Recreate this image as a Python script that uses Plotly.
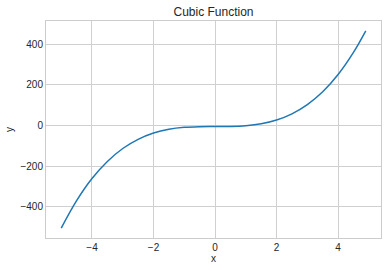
import plotly.graph_objects as go

# Values
x_vals = [-5.0, -4.5, -4.0, -3.5, -3.0, -2.5, -2.0, -1.5, -1.0, -0.5, 0.0,
          0.5, 1.0, 1.5, 2.0, 2.5, 3.0, 3.5, 4.0, 4.5, 4.9]
y_vals = [-505, -370, -261, -177, -113, -68, -37, -18.5, -9, -5.5, -5,
          -4.5, -1, 8.5, 27, 57.5, 103, 166, 251, 360, 466]
x_ticks = [-4, -2, 0, 2, 4]
y_ticks = [-400, -200, 0, 200, 400]
title_text = "Cubic Function"
x_label = "x"
y_label = "y"

W, H = 388, 271
L, R, T, B = 46, 7, 21, 33
FONT = "Liberation Sans, Arial, sans-serif"
TXT = "#262626"

fig = go.Figure()
fig.add_trace(go.Scatter(x=x_vals, y=y_vals, mode="lines",
                         line=dict(color="#1f77b4", width=1.5, shape="spline"),
                         showlegend=False, hoverinfo="skip"))

axis_common = dict(showgrid=True, gridcolor="#d0d0d0", gridwidth=1,
                   showline=True, linecolor="#cccccc", linewidth=1, mirror=True,
                   zeroline=False, ticks="",
                   tickfont=dict(family=FONT, size=10, color=TXT))

xmin, xmax = min(x_vals), max(x_vals)
ymin, ymax = min(y_vals), max(y_vals)
xp = 0.05 * (xmax - xmin)
yp = 0.05 * (ymax - ymin)

fig.update_layout(
    width=W, height=H,
    margin=dict(l=L, r=R, t=T, b=B, pad=0),
    paper_bgcolor="white", plot_bgcolor="white",
    font=dict(family=FONT, size=10, color=TXT),
    title=dict(text=title_text, x=0.5, xref="paper", xanchor="center",
               y=1 - 12 / H, yref="container", yanchor="middle",
               font=dict(family=FONT, size=12, color=TXT)),
    xaxis=dict(range=[xmin - xp, xmax + xp], tickvals=x_ticks,
               title=dict(text=x_label, standoff=2,
                          font=dict(family=FONT, size=10, color=TXT)),
               **axis_common),
    yaxis=dict(range=[ymin - yp, ymax + yp], tickvals=y_ticks,
               title=dict(text=y_label, standoff=4,
                          font=dict(family=FONT, size=10, color=TXT)),
               **axis_common),
)

fig.write_html("out.html")
